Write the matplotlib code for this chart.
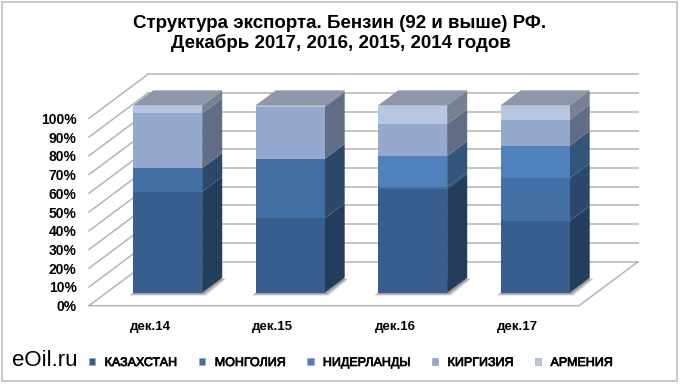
import matplotlib
matplotlib.use("Agg")
import matplotlib.pyplot as plt
import matplotlib.patheffects as pe
from matplotlib.patches import Polygon, Rectangle, Patch
import numpy as np

plt.rcParams["font.family"] = ["Liberation Sans", "DejaVu Sans"]

# data (shares, %)
months = ["дек.14", "дек.15", "дек.16", "дек.17"]
countries = ["КАЗАХСТАН", "МОНГОЛИЯ", "НИДЕРЛАНДЫ", "КИРГИЗИЯ", "АРМЕНИЯ"]
kazakhstan = [53.9, 39.7, 55.3, 38.3]
mongolia = [12.6, 31.7, 1.2, 22.8]
netherlands = [0.0, 0.0, 16.4, 17.3]
kirgizia = [29.2, 27.6, 17.1, 13.9]
armenia = [4.3, 1.0, 10.0, 7.7]

series = [kazakhstan, mongolia, netherlands, kirgizia, armenia]
front_colors = ["#385E8D", "#4370A4", "#4F81BD", "#95A8CD", "#B9C6E0"]
top_color = "#8E97A9"
grid_color = "#B4B4B4"

# fake 3d: depth vector of the walls in data units, bar placed inside it
DX, DY = 0.4816, 23.48
z0, z1 = 0.295, 0.635
width = 0.563


def darker(c, f=0.65):
    r, g, b = matplotlib.colors.to_rgb(c)
    return (r * f, g * f, b * f)


fig = plt.figure(figsize=(6.8, 3.85), dpi=100)
ax = fig.add_axes([89 / 680, 79.3 / 385, 490 / 680, 187.4 / 385])
ax.set_xlim(-0.5, 3.5)
ax.set_ylim(0, 100)
ax.patch.set_visible(False)
for s in ax.spines.values():
    s.set_visible(False)

# walls and floor
for v in range(0, 101, 10):
    ax.plot([-0.5 + DX, 3.5 + DX], [v + DY, v + DY], color=grid_color, lw=1.1, clip_on=False, zorder=1)
    ax.plot([-0.5, -0.5 + DX], [v, v + DY], color=grid_color, lw=1.1, clip_on=False, zorder=1)
ax.plot([-0.5, 3.5, 3.5 + DX], [0, 0, DY], color=grid_color, lw=1.1, clip_on=False, zorder=1)

x = np.arange(len(months))
xc = x + z0 * DX
yo = z0 * DY
bdx = (z1 - z0) * DX
bdy = (z1 - z0) * DY

# soft shadow under each bar
for xi in xc:
    l, r = xi - width / 2, xi + width / 2
    for k, a in enumerate([0.10, 0.14, 0.18]):
        e = 0.035 - k * 0.01
        ax.add_patch(Polygon([(l - e, yo - 1.6 + k * 0.4), (r + e, yo - 1.6 + k * 0.4),
                              (r + bdx + e, yo + bdy - 0.5), (l + bdx, yo + bdy)],
                             closed=True, color="black", alpha=a, lw=0, clip_on=False, zorder=2))

bottom = np.zeros(len(months))
for vals, c in zip(series, front_colors):
    vals = np.array(vals)
    ax.bar(xc, vals, width=width, bottom=bottom + yo, color=c, lw=0, clip_on=False, zorder=4)
    for xi, b, v in zip(xc, bottom, vals):
        if v <= 0:
            continue
        r = xi + width / 2
        ax.add_patch(Polygon([(r, b + yo), (r + bdx, b + yo + bdy), (r + bdx, b + v + yo + bdy), (r, b + v + yo)],
                             closed=True, color=darker(c), lw=0, clip_on=False, zorder=3))
    bottom = bottom + vals

for xi, t in zip(xc, bottom):
    l, r = xi - width / 2, xi + width / 2
    ax.add_patch(Polygon([(l, t + yo), (r, t + yo), (r + bdx, t + yo + bdy), (l + bdx, t + yo + bdy)],
                         closed=True, color=top_color, lw=0, clip_on=False, zorder=5))

ax.set_yticks(range(0, 101, 10))
ax.set_yticklabels([f"{v}%" for v in range(0, 101, 10)], fontsize=10, fontweight="bold")
ax.set_xticks(x)
ax.set_xticklabels(months, fontsize=9.5, fontweight="bold")
ax.tick_params(axis="y", length=0, pad=9)
ax.tick_params(axis="x", length=0, pad=11)

fig.text(339.5 / 680, 1 - 23.5 / 385, "Структура экспорта. Бензин (92 и выше) РФ.",
         ha="center", va="center", fontsize=13.5, fontweight="bold")
fig.text(340.5 / 680, 1 - 43 / 385, "Декабрь 2017, 2016, 2015, 2014 годов",
         ha="center", va="center", fontsize=13.5, fontweight="bold")

fig.text(12 / 680, 1 - 360 / 385, "eOil.ru", fontsize=16, va="center")

handles = [Patch(facecolor=c, edgecolor="#9AA6B8", lw=0.5) for c in front_colors]
leg = fig.legend(handles, countries, ncol=5, loc="center left", bbox_to_anchor=(89 / 680, 1 - 363 / 385),
                 frameon=False, handlelength=0.5, handleheight=0.5, handletextpad=0.75,
                 columnspacing=1.75, borderpad=0, borderaxespad=0,
                 prop={"size": 9})
for t in leg.get_texts():
    t.set_path_effects([pe.withStroke(linewidth=0.5, foreground="black")])

fig.add_artist(Rectangle((1.5 / 680, 4.5 / 385), 675 / 680, 379 / 385, transform=fig.transFigure,
                         fill=False, edgecolor="#BFBFBF", lw=1.2))

fig.savefig("out.png", dpi=100)
